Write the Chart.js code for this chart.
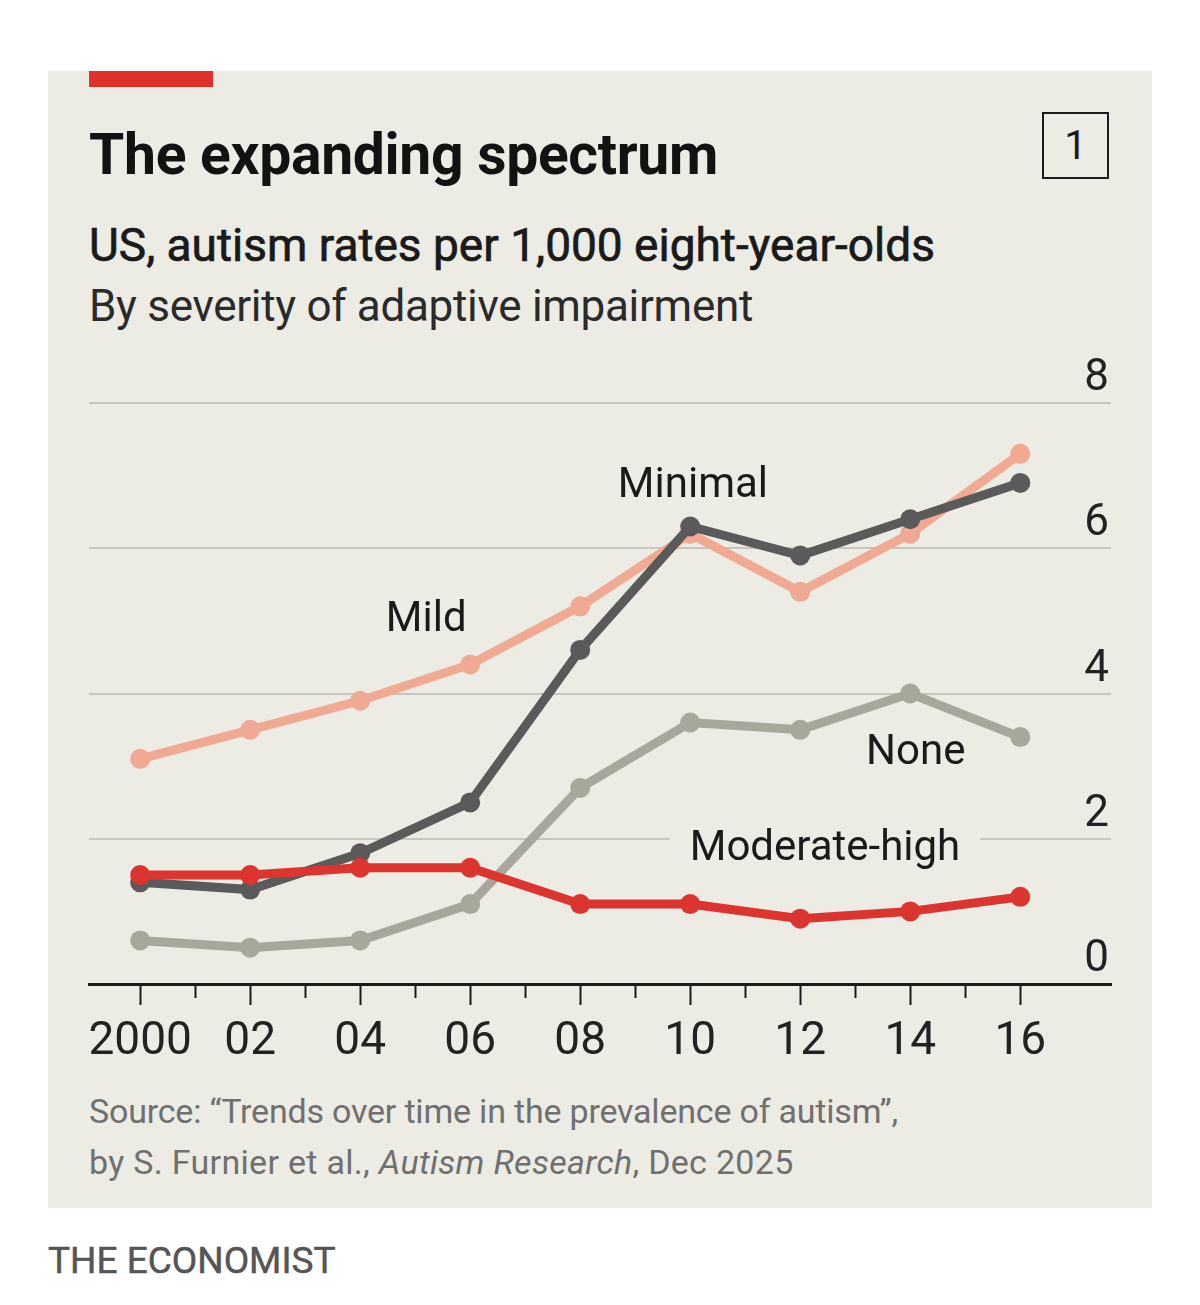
<!DOCTYPE html>
<html>
<head>
<meta charset="utf-8">
<script src="https://cdn.jsdelivr.net/npm/chart.js@4"></script>
<style>
  body { margin: 0; background: #fff; font-family: "Roboto", sans-serif; }
  #panel { position: absolute; left: 48px; top: 71px; width: 1104px; height: 1137px; background: #ecebe4; }
  #redbar { position: absolute; left: 41px; top: 0; width: 124px; height: 16px; background: #e0302a; }
  .t { position: absolute; white-space: nowrap; line-height: 1; }
  #title { left: 41px; top: 55px; font-size: 57px; font-weight: bold; color: #121212; letter-spacing: -0.3px; }
  #sub1 { left: 41px; top: 151px; font-size: 46px; color: #1a1a1a; -webkit-text-stroke: 0.7px #1a1a1a; }
  #sub2 { left: 41px; top: 213px; font-size: 44px; color: #2a2a2a; letter-spacing: -0.3px; }
  #num { position: absolute; left: 994px; top: 41px; width: 63px; height: 63px; border: 2px solid #1a1a1a; font-size: 40px; text-align: center; line-height: 63px; color: #1a1a1a; }
  #wrap { position: absolute; left: 0; top: 269px; width: 1104px; height: 735px; }
  #src1 { left: 41px; top: 1023px; font-size: 34px; color: #707070; letter-spacing: -0.2px; }
  #src2 { left: 41px; top: 1074px; font-size: 34px; color: #707070; letter-spacing: 0.3px; }
  #brand { position: absolute; left: 48px; top: 1242px; font-size: 37px; color: #555; white-space: nowrap; line-height: 1; -webkit-text-stroke: 0.5px #555; }
</style>
</head>
<body>
<div id="panel">
  <div id="redbar"></div>
  <div class="t" id="title">The expanding spectrum</div>
  <div id="num">1</div>
  <div class="t" id="sub1">US, autism rates per 1,000 eight-year-olds</div>
  <div class="t" id="sub2">By severity of adaptive impairment</div>
  <div id="wrap"><canvas id="myChart"></canvas></div>
  <div class="t" id="src1">Source: “Trends over time in the prevalence of autism”,</div>
  <div class="t" id="src2">by S. Furnier et al., <i>Autism Research</i>, Dec 2025</div>
</div>
<div id="brand">THE ECONOMIST</div>

<script>
// survey years and rates per 1,000 eight-year-olds
var years = [2000, 2002, 2004, 2006, 2008, 2010, 2012, 2014, 2016];
var yearLabels = ["2000", "02", "04", "06", "08", "10", "12", "14", "16"];
var mild = [3.1, 3.5, 3.9, 4.4, 5.2, 6.2, 5.4, 6.2, 7.3];
var minimal = [1.4, 1.3, 1.8, 2.5, 4.6, 6.3, 5.9, 6.4, 6.9];
var none = [0.6, 0.5, 0.6, 1.1, 2.7, 3.6, 3.5, 4.0, 3.4];
var modHigh = [1.5, 1.5, 1.6, 1.6, 1.1, 1.1, 0.9, 1.0, 1.2];
var yTicks = [0, 2, 4, 6, 8];

var FONT = '"Roboto", sans-serif';
var BG = '#ecebe4';

function pts(vals) {
  return years.map(function(y, i) { return {x: y, y: vals[i]}; });
}

function series(label, vals, color, order) {
  return {
    label: label, data: pts(vals), order: order,
    borderColor: color, backgroundColor: color, pointBackgroundColor: color,
    borderWidth: 9, pointRadius: 10, pointHoverRadius: 10, pointBorderWidth: 0,
    tension: 0
  };
}

// line labels, placed in data coordinates
var notes = [
  {text: 'Mild', x: 2005.2, y: 5.0},
  {text: 'Minimal', x: 2010.05, y: 6.85},
  {text: 'None', x: 2014.1, y: 3.18},
  {text: 'Moderate-high', x: 2012.45, y: 1.85, box: true}
];

var decor = {
  id: 'decor',
  afterDatasetsDraw: function(chart) {
    var ctx = chart.ctx, xs = chart.scales.x, ys = chart.scales.y;
    ctx.save();
    ctx.font = '42px ' + FONT;
    ctx.textAlign = 'center';
    ctx.textBaseline = 'middle';
    notes.forEach(function(n) {
      var px = xs.getPixelForValue(n.x), py = ys.getPixelForValue(n.y);
      if (n.box) {
        var w = ctx.measureText(n.text).width;
        ctx.fillStyle = BG;
        ctx.fillRect(px - w / 2 - 20, py - 26, w + 40, 52);
      }
      ctx.fillStyle = '#1a1a1a';
      ctx.fillText(n.text, px, py);
    });
    ctx.restore();
  },
  afterDraw: function(chart) {
    var ctx = chart.ctx, xs = chart.scales.x, ys = chart.scales.y, area = chart.chartArea;
    ctx.save();
    // y labels sit above the gridlines at the right
    ctx.font = '44px ' + FONT;
    ctx.fillStyle = '#222';
    ctx.textAlign = 'right';
    ctx.textBaseline = 'alphabetic';
    yTicks.forEach(function(v) {
      ctx.fillText(String(v), area.right - 2, ys.getPixelForValue(v) - 13);
    });
    // x tick marks, long on even years
    ctx.strokeStyle = '#1a1a1a';
    ctx.lineWidth = 2;
    for (var yr = years[0]; yr <= years[years.length - 1]; yr++) {
      var px = Math.round(xs.getPixelForValue(yr)) + 0.5;
      ctx.beginPath();
      ctx.moveTo(px, area.bottom);
      ctx.lineTo(px, area.bottom + (yr % 2 === 0 ? 21 : 14));
      ctx.stroke();
    }
    ctx.font = '46px ' + FONT;
    ctx.textAlign = 'center';
    years.forEach(function(yr, i) {
      ctx.fillText(yearLabels[i], xs.getPixelForValue(yr), area.bottom + 70);
    });
    ctx.restore();
  }
};

var ctx = document.getElementById('myChart').getContext('2d');
var chart = new Chart(ctx, {
  type: 'line',
  data: {
    datasets: [
      series('Moderate-high', modHigh, '#dc3530', 0),
      series('Minimal', minimal, '#5a5a5a', 1),
      series('Mild', mild, '#f0aa94', 2),
      series('None', none, '#a7a79b', 3)
    ]
  },
  options: {
    responsive: true,
    maintainAspectRatio: false,
    animation: false,
    events: [],
    layout: { padding: {left: 41, right: 41, top: 63, bottom: 91} },
    plugins: { legend: {display: false}, tooltip: {enabled: false} },
    scales: {
      x: {
        type: 'linear', min: 1999.07, max: 2017.65,
        grid: {display: false, drawTicks: false},
        ticks: {display: false},
        border: {display: true, color: '#1a1a1a', width: 3}
      },
      y: {
        min: 0, max: 8,
        afterBuildTicks: function(s) { s.ticks = yTicks.map(function(v) { return {value: v}; }); },
        grid: {
          drawTicks: false, lineWidth: 2,
          color: function(c) { return c.tick && c.tick.value === 0 ? 'rgba(0,0,0,0)' : '#c6c6be'; }
        },
        ticks: {display: false},
        border: {display: false}
      }
    }
  },
  plugins: [decor]
});
</script>
</body>
</html>
